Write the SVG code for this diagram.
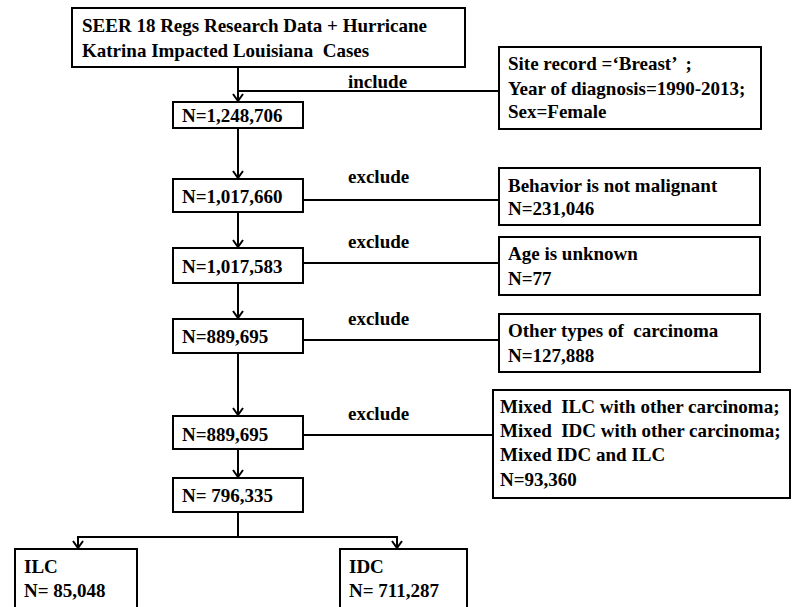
<svg xmlns="http://www.w3.org/2000/svg" width="792" height="607" viewBox="0 0 792 607">
<defs>
<marker id="arr" viewBox="0 0 12 12" refX="11" refY="6" markerWidth="12" markerHeight="12" markerUnits="userSpaceOnUse" orient="auto">
<path d="M4,1 L11,6 L4,11" fill="none" stroke="#000" stroke-width="2"/>
</marker>
</defs>
<style>
.box{fill:#fff;stroke:#000;stroke-width:2}
.t{font-family:"Liberation Serif","Times New Roman",serif;font-weight:bold;font-size:19px;fill:#000;white-space:pre}
.c{fill:none;stroke:#000;stroke-width:2}
</style>
<rect width="792" height="607" fill="#fff"/>
<g id="connectors">
<line class="c" x1="238" y1="67" x2="238" y2="101" marker-end="url(#arr)"/>
<line class="c" x1="499" y1="91" x2="238" y2="91"/>
<line class="c" x1="238" y1="128" x2="238" y2="178" marker-end="url(#arr)"/>
<line class="c" x1="303" y1="200" x2="499" y2="200"/>
<line class="c" x1="238" y1="212" x2="238" y2="247" marker-end="url(#arr)"/>
<line class="c" x1="303" y1="263" x2="499" y2="263"/>
<line class="c" x1="238" y1="283" x2="238" y2="318" marker-end="url(#arr)"/>
<line class="c" x1="303" y1="340" x2="499" y2="340"/>
<line class="c" x1="238" y1="353" x2="238" y2="415" marker-end="url(#arr)"/>
<line class="c" x1="303" y1="435" x2="493" y2="435"/>
<line class="c" x1="238" y1="449" x2="238" y2="477" marker-end="url(#arr)"/>
<line class="c" x1="238" y1="512" x2="238" y2="537"/>
<line class="c" x1="77" y1="537" x2="398" y2="537"/>
<line class="c" x1="78" y1="537" x2="78" y2="548" marker-end="url(#arr)"/>
<line class="c" x1="397" y1="537" x2="397" y2="548" marker-end="url(#arr)"/>
<text class="t" x="348" y="88">include</text>
<text class="t" x="348" y="183">exclude</text>
<text class="t" x="348" y="248">exclude</text>
<text class="t" x="348" y="325">exclude</text>
<text class="t" x="348" y="420">exclude</text>
</g>
<g id="source">
<rect class="box" x="72" y="8" width="393" height="59"/>
<text class="t" x="82" y="32">SEER 18 Regs Research Data + Hurricane</text>
<text class="t" x="82" y="57">Katrina Impacted Louisiana  Cases</text>
</g>
<g id="n1">
<rect class="box" x="173" y="102" width="130" height="26"/>
<text class="t" x="182" y="122">N=1,248,706</text>
</g>
<g id="include-criteria">
<rect class="box" x="499" y="47" width="262" height="82"/>
<text class="t" x="508" y="70">Site record =‘Breast’  ;</text>
<text class="t" x="508" y="95">Year of diagnosis=1990-2013;</text>
<text class="t" x="508" y="118">Sex=Female</text>
</g>
<g id="n2">
<rect class="box" x="173" y="179" width="130" height="33"/>
<text class="t" x="182" y="203">N=1,017,660</text>
</g>
<g id="ex1">
<rect class="box" x="499" y="168" width="261" height="57"/>
<text class="t" x="508" y="192">Behavior is not malignant</text>
<text class="t" x="508" y="215">N=231,046</text>
</g>
<g id="n3">
<rect class="box" x="173" y="248" width="130" height="35"/>
<text class="t" x="182" y="273">N=1,017,583</text>
</g>
<g id="ex2">
<rect class="box" x="499" y="237" width="261" height="58"/>
<text class="t" x="508" y="260">Age is unknown</text>
<text class="t" x="508" y="285">N=77</text>
</g>
<g id="n4">
<rect class="box" x="173" y="319" width="130" height="34"/>
<text class="t" x="182" y="343">N=889,695</text>
</g>
<g id="ex3">
<rect class="box" x="499" y="314" width="261" height="58"/>
<text class="t" x="508" y="337">Other types of  carcinoma</text>
<text class="t" x="508" y="362">N=127,888</text>
</g>
<g id="n5">
<rect class="box" x="173" y="416" width="130" height="33"/>
<text class="t" x="182" y="441">N=889,695</text>
</g>
<g id="ex4">
<rect class="box" x="493" y="390" width="297" height="108"/>
<text class="t" x="500" y="413">Mixed  ILC with other carcinoma;</text>
<text class="t" x="500" y="437">Mixed  IDC with other carcinoma;</text>
<text class="t" x="500" y="461">Mixed IDC and ILC</text>
<text class="t" x="500" y="486">N=93,360</text>
</g>
<g id="n6">
<rect class="box" x="173" y="478" width="130" height="34"/>
<text class="t" x="182" y="502">N= 796,335</text>
</g>
<g id="ilc">
<rect class="box" x="15" y="549" width="122" height="62"/>
<text class="t" x="24" y="573">ILC</text>
<text class="t" x="24" y="597">N= 85,048</text>
</g>
<g id="idc">
<rect class="box" x="340" y="549" width="127" height="62"/>
<text class="t" x="349" y="573">IDC</text>
<text class="t" x="349" y="597">N= 711,287</text>
</g>
</svg>
